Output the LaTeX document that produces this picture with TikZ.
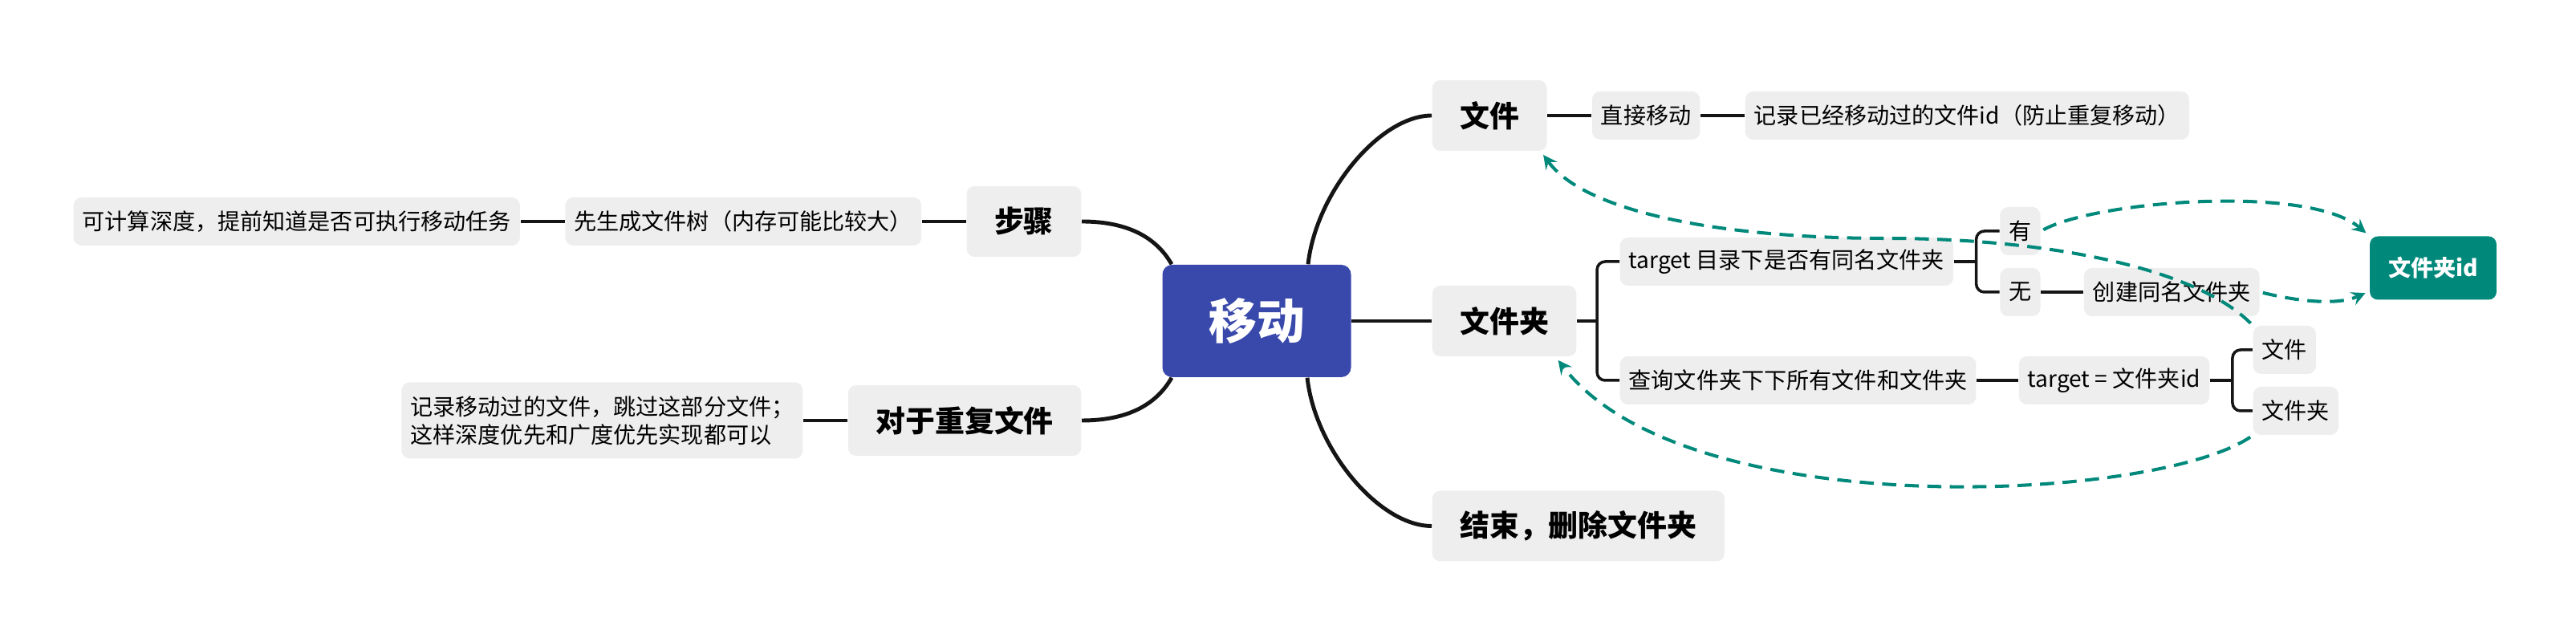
\documentclass[tikz,border=0pt]{standalone}
\usepackage{fontspec}
\setmainfont{Noto Sans CJK SC}
\usetikzlibrary{positioning}
\definecolor{rootblue}{HTML}{3949AB}
\definecolor{linkteal}{HTML}{00897B}
\definecolor{boxgray}{HTML}{EEEEEE}
\definecolor{linegray}{HTML}{151515}

\begin{document}
\begin{tikzpicture}[
	topic/.style={fill=rootblue, text=white, rounded corners=1.2mm, minimum width=2.35cm, minimum height=1.4cm, font=\fontsize{17}{20}\selectfont\bfseries},
	main/.style={fill=boxgray, rounded corners=1mm, minimum height=0.88cm, inner xsep=0.345cm, font=\fontsize{10.5}{12}\selectfont\bfseries},
	sub/.style={fill=boxgray, rounded corners=1mm, minimum height=0.6cm, inner xsep=0.11cm, font=\fontsize{8}{10}\selectfont},
	idbox/.style={fill=linkteal, text=white, rounded corners=1mm, minimum height=0.79cm, inner xsep=0.23cm, font=\fontsize{8}{10}\selectfont\bfseries},
	branch/.style={line width=1.4pt, draw=linegray},
	twig/.style={line width=1pt, draw=linegray},
	link/.style={draw=linkteal, line width=1.15pt, dash pattern=on 5pt off 3pt, -stealth, shorten >=1.5pt, shorten <=1pt},
	]
		\def\gap{0.55cm};
		\def\fork{0.28};
		\useasboundingbox (0,0) rectangle (32.1,8);
		\node[topic] (root) at (15.66,4.00) {移动};
		\node[main, anchor=west] (file) at (17.84,6.56) {文件};
		\node[main, anchor=west] (folder) at (17.84,4.00) {文件夹};
		\node[main, anchor=west] (finish) at (17.84,1.445) {结束，删除文件夹};
		\node[main, anchor=east] (steps) at (13.48,5.24) {步骤};
		\node[main, anchor=east] (dup) at (13.48,2.76) {对于重复文件};
		\node[sub, right=\gap of file] (direct) {直接移动};
		\node[sub, right=\gap of direct] (record) {记录已经移动过的文件id（防止重复移动）};
		\node[sub, anchor=west] (check) at (20.18,4.74) {target 目录下是否有同名文件夹};
		\node[sub, right=0.57cm of check, yshift=0.38cm] (yes) {有};
		\node[sub, right=0.57cm of check, yshift=-0.38cm] (no) {无};
		\node[sub, right=0.53cm of no] (mkdir) {创建同名文件夹};
		\node[idbox] (fid) at (30.32,4.66) {文件夹id};
		\node[sub, anchor=west] (query) at (20.18,3.26) {查询文件夹下下所有文件和文件夹};
		\node[sub, right=0.52cm of query] (target) {target = 文件夹id};
		\node[sub, right=0.53cm of target, yshift=0.38cm] (leaffile) {文件};
		\node[sub, right=0.53cm of target, yshift=-0.38cm] (leafdir) {文件夹};
		\node[sub, left=\gap of steps] (tree) {先生成文件树（内存可能比较大）};
		\node[sub, left=\gap of tree] (depth) {可计算深度，提前知道是否可执行移动任务};
		\node[sub, left=\gap of dup, align=left, minimum height=0.95cm] (skip) {记录移动过的文件，跳过这部分文件；\\这样深度优先和广度优先实现都可以};
		\draw[branch] ([xshift=0.64cm]root.north) .. controls +(0.1,0.9) and +(-0.64,0) .. (file.west);
		\draw[branch] (root.east) -- (folder.west);
		\draw[branch] ([xshift=0.63cm]root.south) .. controls +(0.1,-0.9) and +(-0.65,0) .. (finish.west);
		\draw[branch] (steps.east) .. controls +(0.55,0) and +(-0.2,0.35) .. ([xshift=-1.06cm]root.north);
		\draw[branch] (dup.east) .. controls +(0.55,0) and +(-0.2,-0.35) .. ([xshift=-1.06cm]root.south);
		\draw[twig] (file) -- (direct);
		\draw[twig] (direct) -- (record);
		\draw[twig] (no) -- (mkdir);
		\draw[twig] (query) -- (target);
		\draw[twig] (steps) -- (tree);
		\draw[twig] (tree) -- (depth);
		\draw[twig] (dup) -- (skip);
		\draw[twig] (folder.east) -- ++(0.25,0) coordinate (fork1);
		\draw[twig, rounded corners=1mm] (check.west) -| (fork1) |- (query.west);
		\draw[twig] (check.east) -- ++(\fork,0) coordinate (fork2);
		\draw[twig, rounded corners=1mm] (yes.west) -| (fork2) |- (no.west);
		\draw[twig] (target.east) -- ++(\fork,0) coordinate (fork3);
		\draw[twig, rounded corners=1mm] (leaffile.west) -| (fork3) |- (leafdir.west);
		\draw[link] (yes.east) .. controls +(0.7,0.38) and +(-0.76,0.64) .. (fid.north west);
		\draw[link] (mkdir.east) .. controls +(0.58,-0.14) and +(-0.36,-0.16) .. (fid.200);
		\draw[link] (leaffile.north west) .. controls +(-0.72,0.72) and +(2.0,0) .. (23.5,5.03) .. controls +(-2.0,0) and +(0.57,-0.77) .. (file.-35);
		\draw[link] (leafdir.south west) .. controls +(-1.23,-0.83) and +(1.62,-2.1) .. (folder.-35);
		\end{tikzpicture}
\end{document}
